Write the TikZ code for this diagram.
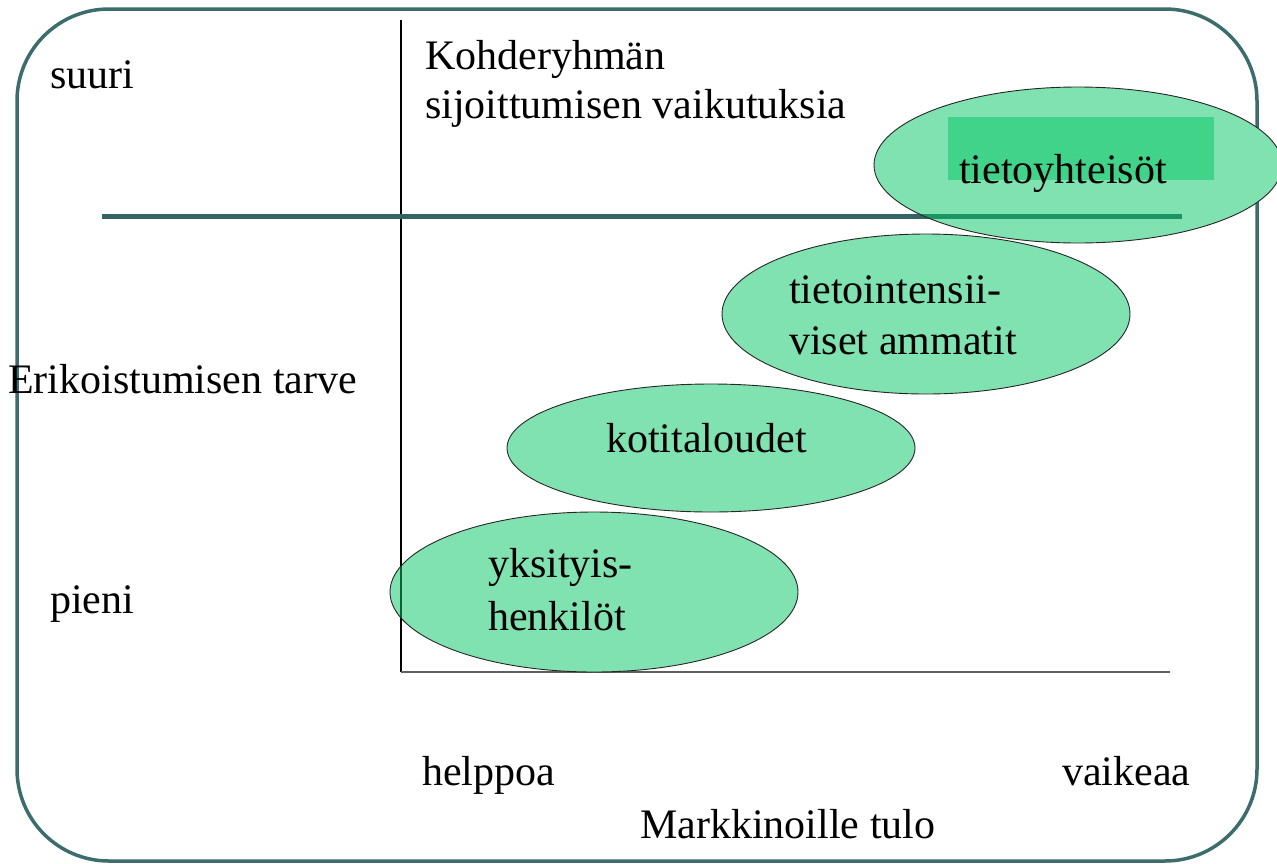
\documentclass[tikz,border=0pt]{standalone}
\usepackage{fontspec}
\setmainfont{Liberation Serif}
\newfontfamily\lblfont{Liberation Serif}
\usetikzlibrary{shapes.geometric}
\definecolor{frameteal}{RGB}{60,108,108}
\definecolor{bandteal}{RGB}{52,100,100}
\definecolor{segfill}{RGB}{128,226,176}
\definecolor{segdeep}{RGB}{64,211,137}
\definecolor{bandmix}{RGB}{26,148,98}
\definecolor{axismix}{RGB}{10,100,55}
\definecolor{axisgray}{RGB}{95,95,95}
\tikzset{
  lbl/.style={anchor=base west, inner sep=0pt, font=\lblfont\fontsize{42}{51}\selectfont},
  seg/.style={ellipse, draw=none, fill=segfill, inner sep=0pt, outer sep=0pt},
  segline/.style={draw=black!85, line width=0.9pt},
  tagbox/.style={rectangle, fill=segdeep, draw=none, inner sep=0pt},
}
\begin{document}
\begin{tikzpicture}[x=1pt,y=-1pt]
\useasboundingbox (0,0) rectangle (1277,863);
% outer frame
\draw[frameteal, line width=3.5pt, rounded corners=92pt] (17,9) rectangle (1257,861);

% axes
\coordinate (ytop) at (401,20);
\coordinate (orig) at (401,672);
\coordinate (xend) at (1170,672);
\draw[black, line width=1.2pt] (ytop) -- (orig);
\draw[axisgray, line width=2pt] (orig) -- (xend);

% threshold band
\coordinate (bandL) at (102,216);
\coordinate (bandR) at (1182,216);
\draw[bandteal, line width=5pt] (bandL) -- (bandR);

% axis labels
\node[lbl] (suuri) at (50,88) {suuri};
\node[lbl] (koh1) at (425,69) {Kohderyhmän};
\node[lbl] (koh2) at (425,118) {sijoittumisen vaikutuksia};
\node[lbl] (erik) at (8,393) {Erikoistumisen tarve};
\node[lbl] (pieni) at (50,613) {pieni};
\node[lbl] (help) at (422,785) {helppoa};
\node[lbl] (vaik) at (1062,785) {vaikeaa};
\node[lbl] (mark) at (640,838) {Markkinoille tulo};

% segment areas
\node[seg, minimum width=408pt, minimum height=156pt] (eTy) at (1078,165) {};
\node[seg, minimum width=408pt, minimum height=160pt] (eTi) at (926,314) {};
\node[seg, minimum width=408pt, minimum height=128pt] (eKo) at (711,448) {};
\node[seg, minimum width=408pt, minimum height=160pt] (eYk) at (594,592) {};

% what shows through the translucent areas
\begin{scope}
  \clip (eTy.center) ellipse [x radius=204pt, y radius=78pt];
  \draw[bandmix, line width=5pt] (bandL) -- (bandR);
\end{scope}
\begin{scope}
  \clip (eYk.center) ellipse [x radius=204pt, y radius=80pt];
  \draw[axismix, line width=1.2pt] (ytop) -- (orig);
\end{scope}
\begin{scope}
  \clip (eTi.center) ellipse [x radius=204pt, y radius=80pt];
  \fill[segdeep] (eKo.center) ellipse [x radius=204pt, y radius=64pt];
\end{scope}
\node[tagbox, minimum width=266pt, minimum height=63pt] (rTy) at (1081,148.5) {};

% outlines
\draw[segline] (eTy.center) ellipse [x radius=204pt, y radius=78pt];
\draw[segline] (eTi.center) ellipse [x radius=204pt, y radius=80pt];
\draw[segline] (eKo.center) ellipse [x radius=204pt, y radius=64pt];
\draw[segline] (eYk.center) ellipse [x radius=204pt, y radius=80pt];

% segment labels
\node[lbl] (tTy) at (959,183) {tietoyhteisöt};
\node[lbl] (tTi1) at (789,303) {tietointensii-};
\node[lbl] (tTi2) at (789,354) {viset ammatit};
\node[lbl] (tKo) at (606,452) {kotitaloudet};
\node[lbl] (tYk1) at (488,577) {yksityis-};
\node[lbl] (tYk2) at (488,630) {henkilöt};
\end{tikzpicture}
\end{document}
